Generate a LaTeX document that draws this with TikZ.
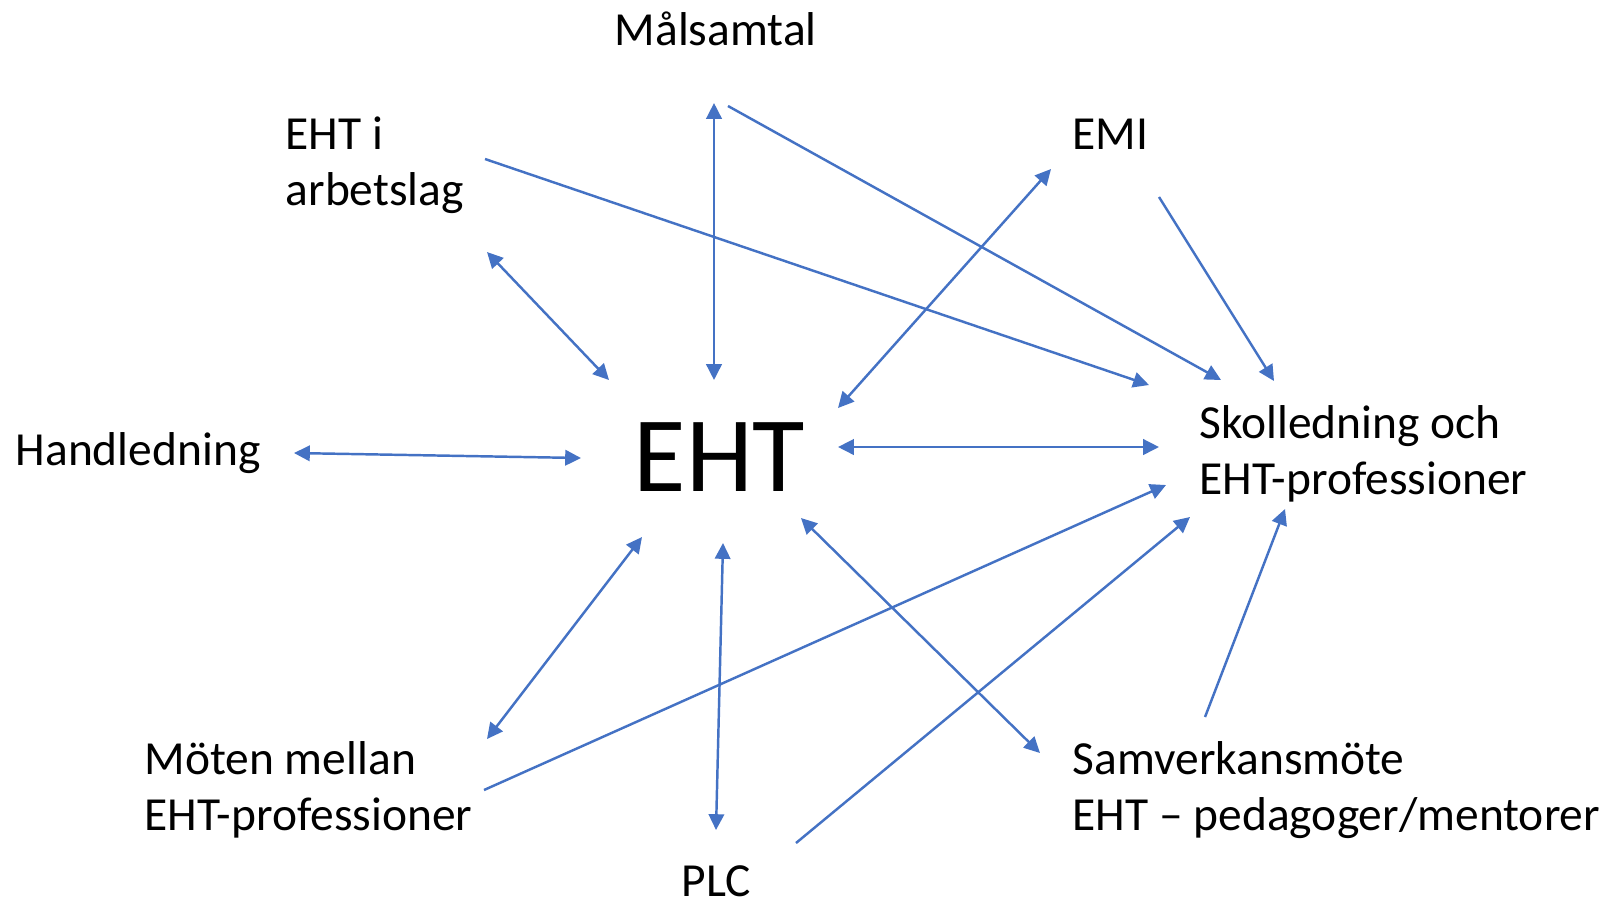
\documentclass[tikz,border=0pt]{standalone}
\usepackage{fontspec}
\setmainfont{Carlito}
\usetikzlibrary{arrows.meta}
\definecolor{arrowBlue}{RGB}{68,114,196}

\begin{document}
\begin{tikzpicture}[x=0.01cm, y=-0.01cm,
		txt/.style={anchor=base west, inner sep=0pt, align=left, font=\fontsize{13.5}{15.8}\selectfont},
		oneway/.style={-{Triangle[length=4.5pt, width=4.4pt]}, line width=0.7pt, arrowBlue},
		twoway/.style={oneway, {Triangle[length=4.5pt, width=4.4pt]}-{Triangle[length=4.5pt, width=4.4pt]}}]
	\useasboundingbox (0,0) rectangle (1613,902);

	% Labels (two-line nodes sit on their last baseline)
	\node[txt] (eht) at (633,491) {\fontsize{30.5}{36}\selectfont EHT};
	\node[txt] (malsamtal) at (614,45) {Målsamtal};
	\node[txt] (arbetslag) at (285,205) {EHT i\\arbetslag};
	\node[txt] (emi) at (1072,149) {EMI};
	\node[txt] (handledning) at (15,465) {Handledning};
	\node[txt] (skolledning) at (1199,494) {Skolledning och\\EHT-professioner};
	\node[txt] (moten) at (144,830) {Möten mellan\\EHT-professioner};
	\node[txt] (plc) at (681,896) {PLC};
	\node[txt] (samverkan) at (1072,830) {Samverkansmöte\\EHT -- pedagoger/mentorer};

	% Arrow ends
	\foreach \n/\x/\y in {malA/714/103, malB/728/106, arbA/485/159, arbB/487/252,
			emiA/1051/169, emiB/1159/197, hanA/294/453, motA/487/739, motB/484/790,
			plcA/716/830, plcB/796/843, samA/1040/753, samB/1205/717,
			ehtA/714/380, ehtB/609/380, ehtC/838/408, ehtD/581/458, ehtE/838/447,
			ehtF/642/537, ehtG/723/543, ehtH/801/518,
			skA/1221/380, skB/1149/385, skC/1274/381, skD/1159/447,
			skE/1166/485, skF/1190/517, skG/1285/509}
		\coordinate (\n) at (\x,\y);

	% Draw mappings
	\draw[twoway] (malA) -- (ehtA);
	\draw[oneway] (malB) -- (skA);
	\draw[oneway] (arbA) -- (skB);
	\draw[twoway] (arbB) -- (ehtB);
	\draw[twoway] (emiA) -- (ehtC);
	\draw[oneway] (emiB) -- (skC);
	\draw[twoway] (hanA) -- (ehtD);
	\draw[twoway] (ehtE) -- (skD);
	\draw[twoway] (motA) -- (ehtF);
	\draw[oneway] (motB) -- (skE);
	\draw[twoway] (plcA) -- (ehtG);
	\draw[oneway] (plcB) -- (skF);
	\draw[twoway] (samA) -- (ehtH);
	\draw[oneway] (samB) -- (skG);
\end{tikzpicture}
\end{document}
